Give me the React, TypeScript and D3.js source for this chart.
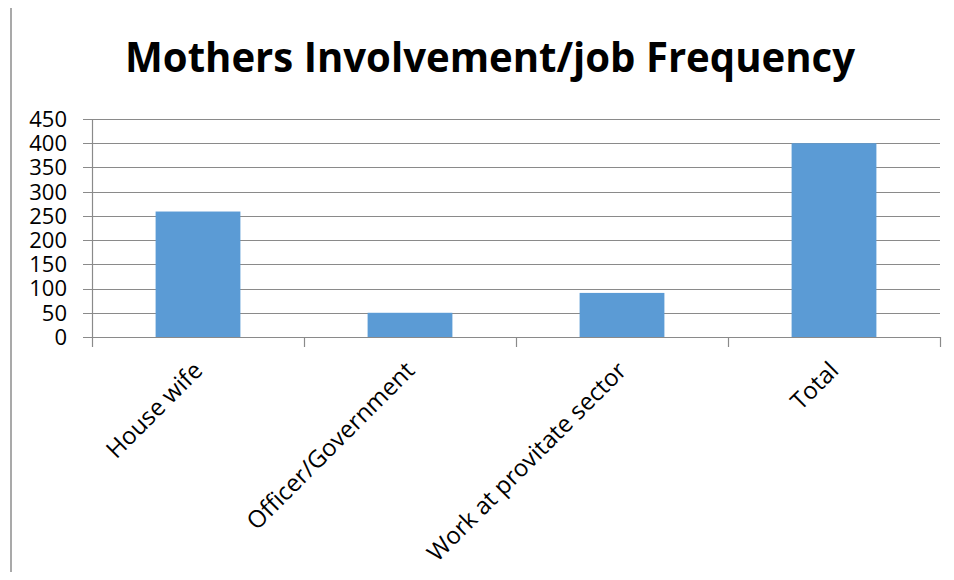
import { useEffect, useRef } from 'react'
import * as d3 from 'd3'

const categories = ['House wife', 'Officer/Government', 'Work at provitate sector', 'Total']
const frequency = [259, 50, 91, 400]
const yTicks = [0, 50, 100, 150, 200, 250, 300, 350, 400, 450]
const title = 'Mothers Involvement/job Frequency'

export default function App() {
  const svgRef = useRef<SVGSVGElement>(null)

  useEffect(() => {
    const svg = svgRef.current
    if (!svg) return
    const width = 954
    const height = 580
    const margin = { top: 119, right: 14, bottom: 243, left: 92 }
    const innerW = width - margin.left - margin.right
    const innerH = height - margin.top - margin.bottom
    const font = '"Open Sans", "DejaVu Sans", sans-serif'

    d3.select(svg).selectAll('*').remove()
    const s = d3.select(svg).attr('width', width).attr('height', height)

    s.append('rect').attr('width', width).attr('height', height).attr('fill', '#fff')

    // frame (only top and left edges are visible in the source)
    s.append('line')
      .attr('x1', 11).attr('x2', width).attr('y1', 6.5).attr('y2', 6.5)
      .attr('stroke', '#8c8c8c').attr('stroke-width', 1.5)
    s.append('line')
      .attr('x1', 11).attr('x2', 11).attr('y1', 6).attr('y2', height)
      .attr('stroke', '#8c8c8c').attr('stroke-width', 1.5)

    s.append('text')
      .attr('x', 490)
      .attr('y', 72)
      .attr('text-anchor', 'middle')
      .attr('font-family', font)
      .attr('font-weight', 'bold')
      .attr('font-size', '42px')
      .attr('textLength', 730)
      .attr('lengthAdjust', 'spacingAndGlyphs')
      .attr('fill', '#000')
      .text(title)

    const root = s.append('g').attr('transform', `translate(${margin.left},${margin.top})`)

    const x = d3.scaleBand<string>().domain(categories).range([0, innerW]).paddingInner(0.6).paddingOuter(0.3)
    const y = d3.scaleLinear().domain([0, 450]).range([innerH, 0])

    // ── Grid lines ───────────────────────────
    root.append('g')
      .selectAll('line')
      .data(yTicks)
      .join('line')
      .attr('x1', -9)
      .attr('x2', innerW)
      .attr('y1', (d) => Math.round(y(d)) + 0.5)
      .attr('y2', (d) => Math.round(y(d)) + 0.5)
      .attr('stroke', '#8a8a8a')
      .attr('stroke-width', 1.2)

    // ── Bars ─────────────────────────────────
    root.append('g')
      .selectAll('rect')
      .data(categories)
      .join('rect')
      .attr('x', (d) => x(d)!)
      .attr('width', x.bandwidth())
      .attr('y', (d, i) => y(frequency[i]))
      .attr('height', (d, i) => innerH - y(frequency[i]))
      .attr('fill', '#5b9bd5')

    // ── Axes ─────────────────────────────────
    const step = x.step()
    const boundaries = d3.range(categories.length + 1).map((i) => i * step)
    root.append('line')
      .attr('x1', 0.5).attr('x2', 0.5).attr('y1', 0).attr('y2', innerH)
      .attr('stroke', '#8a8a8a').attr('stroke-width', 1.2)
    root.append('g')
      .selectAll('line')
      .data(boundaries)
      .join('line')
      .attr('x1', (d) => Math.round(d) + 0.5)
      .attr('x2', (d) => Math.round(d) + 0.5)
      .attr('y1', innerH)
      .attr('y2', innerH + 10)
      .attr('stroke', '#8a8a8a')
      .attr('stroke-width', 1.2)

    root.append('g')
      .selectAll('text')
      .data(yTicks)
      .join('text')
      .attr('x', -25)
      .attr('y', (d) => y(d))
      .attr('dy', '0.36em')
      .attr('text-anchor', 'end')
      .attr('font-family', font)
      .attr('font-size', '22px')
      .attr('fill', '#000')
      .text((d) => String(d))

    root.append('g')
      .selectAll('text')
      .data(categories)
      .join('text')
      .attr('transform', (d) => `translate(${x(d)! + x.bandwidth() / 2 + 6},${innerH + 35}) rotate(-45)`)
      .attr('text-anchor', 'end')
      .attr('font-family', font)
      .attr('font-size', '24px')
      .attr('fill', '#000')
      .text((d) => d)
  }, [])

  return (
    <div style={{ margin: -8 }}>
      <svg ref={svgRef} style={{ display: 'block' }} />
    </div>
  )
}
